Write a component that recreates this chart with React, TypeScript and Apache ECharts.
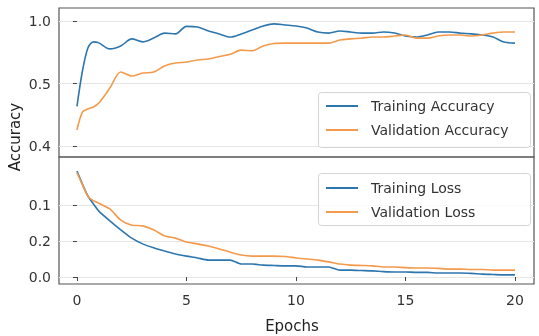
import React, { useEffect, useRef } from "react";
import * as echarts from "echarts";

const epochs = [0, 0.25, 0.5, 0.75, 1, 1.5, 2, 2.5, 3, 3.5, 4, 4.5, 5, 5.5, 6, 6.5, 7, 7.5, 8, 8.5, 9, 9.5, 10, 10.5, 11, 11.5, 12, 12.5, 13, 13.5, 14, 14.5, 15, 15.5, 16, 16.5, 17, 17.5, 18, 18.5, 19, 19.5, 20];

const trainAcc = [0.59, 0.76, 0.87, 0.9, 0.895, 0.866, 0.88, 0.914, 0.9, 0.918, 0.942, 0.938, 0.974, 0.971, 0.952, 0.938, 0.923, 0.938, 0.957, 0.976, 0.986, 0.981, 0.976, 0.966, 0.947, 0.942, 0.952, 0.947, 0.942, 0.942, 0.947, 0.942, 0.928, 0.923, 0.933, 0.947, 0.947, 0.942, 0.938, 0.933, 0.923, 0.899, 0.894];
const valAcc = [0.477, 0.563, 0.578, 0.587, 0.606, 0.678, 0.755, 0.736, 0.75, 0.755, 0.784, 0.798, 0.803, 0.813, 0.818, 0.83, 0.84, 0.86, 0.857, 0.88, 0.892, 0.894, 0.894, 0.894, 0.894, 0.894, 0.909, 0.914, 0.918, 0.923, 0.923, 0.928, 0.933, 0.918, 0.918, 0.928, 0.933, 0.933, 0.928, 0.933, 0.942, 0.947, 0.947];
const trainLoss = [0.294, 0.258, 0.225, 0.203, 0.183, 0.156, 0.131, 0.108, 0.092, 0.081, 0.072, 0.064, 0.058, 0.053, 0.047, 0.047, 0.047, 0.036, 0.036, 0.033, 0.032, 0.031, 0.031, 0.028, 0.028, 0.028, 0.019, 0.019, 0.018, 0.017, 0.015, 0.014, 0.014, 0.013, 0.013, 0.011, 0.011, 0.011, 0.01, 0.008, 0.007, 0.006, 0.006];
const valLoss = [0.29, 0.256, 0.224, 0.212, 0.205, 0.189, 0.158, 0.144, 0.142, 0.131, 0.114, 0.108, 0.097, 0.092, 0.086, 0.078, 0.069, 0.061, 0.058, 0.058, 0.058, 0.057, 0.053, 0.05, 0.047, 0.042, 0.036, 0.033, 0.032, 0.031, 0.028, 0.028, 0.026, 0.025, 0.025, 0.024, 0.022, 0.022, 0.021, 0.021, 0.019, 0.019, 0.019];

const xTicks = [0, 5, 10, 15, 20];
const accTickValues = [0.4, 0.7, 1.0];
const accTickLabels = ["0.4", "0.5", "1.0"];
const lossTickValues = [0, 0.1, 0.2];
const lossTickLabels = ["0.0", "0.2", "0.1"];

const accNames = ["Training Accuracy", "Validation Accuracy"];
const lossNames = ["Training Loss", "Validation Loss"];

const BLUE = "#2e76ae";
const ORANGE = "#f39a4c";
const FONT = "DejaVu Sans";

const zip = (ys: number[]) => epochs.map((x, i) => [x, ys[i]]);

export default function App() {
  const ref = useRef<HTMLDivElement>(null);
  useEffect(() => {
    if (!ref.current) return;
    const chart = echarts.init(ref.current, null, { renderer: "svg" });
    const yAxisCommon = (gridIndex: number, min: number, max: number, vals: number[], labels: string[]) => ({
      type: "value",
      gridIndex,
      min,
      max,
      axisLine: { show: false },
      axisTick: { show: true, customValues: vals, length: 4, lineStyle: { color: "#444" } },
      axisLabel: {
        customValues: vals,
        margin: 8,
        color: "#333",
        fontSize: 14,
        fontFamily: FONT,
        formatter: (v: number) => {
          const idx = vals.findIndex((t) => Math.abs(t - v) < 1e-6);
          return idx >= 0 ? labels[idx] : "";
        },
      },
      splitLine: { show: true, lineStyle: { color: "#e6e6e6", width: 1 } },
    });
    const lineSeries = (name: string, data: number[], color: string, idx: number, smooth: number) => ({
      type: "line",
      name,
      data: zip(data),
      xAxisIndex: idx,
      yAxisIndex: idx,
      showSymbol: false,
      symbol: "none",
      smooth,
      z: 2,
      lineStyle: { color, width: 1.6 },
      itemStyle: { color },
    });
    const legendCommon = {
      orient: "vertical",
      left: 326,
      padding: 0,
      itemGap: 8,
      itemWidth: 32,
      itemHeight: 2,
      icon: "rect",
      z: 10,
      textStyle: { fontSize: 14, fontFamily: FONT, color: "#333", lineHeight: 16, padding: [0, 0, 0, 8] },
    };
    chart.setOption({
      animation: false,
      textStyle: { fontFamily: FONT },
      grid: [
        { left: 59, top: 8, width: 475, height: 149, show: true, borderColor: "#555", borderWidth: 1.2, backgroundColor: "transparent" },
        { left: 59, top: 157, width: 475, height: 127, show: true, borderColor: "#555", borderWidth: 1.2, backgroundColor: "transparent" },
      ],
      xAxis: [
        { type: "value", gridIndex: 0, min: -0.82, max: 20.87, axisLine: { show: false }, axisTick: { show: false }, axisLabel: { show: false }, splitLine: { show: false } },
        {
          type: "value",
          gridIndex: 1,
          min: -0.82,
          max: 20.87,
          axisLine: { show: false },
          axisTick: { show: true, customValues: xTicks, length: 4, lineStyle: { color: "#444" } },
          axisLabel: { customValues: xTicks, margin: 9, color: "#333", fontSize: 14, fontFamily: FONT },
          splitLine: { show: false },
        },
      ],
      yAxis: [
        yAxisCommon(0, 0.3472, 1.0624, accTickValues, accTickLabels),
        yAxisCommon(1, -0.0194, 0.3333, lossTickValues, lossTickLabels),
      ],
      legend: [
        { ...legendCommon, top: 98, data: accNames },
        { ...legendCommon, top: 180, data: lossNames },
      ],
      graphic: [
        { type: "rect", left: 318, top: 92, z: 3, shape: { width: 212, height: 55, r: 3 }, style: { fill: "rgba(255,255,255,0.8)", stroke: "#d4d4d4", lineWidth: 1 } },
        { type: "rect", left: 318, top: 173, z: 3, shape: { width: 212, height: 52, r: 3 }, style: { fill: "rgba(255,255,255,0.8)", stroke: "#d4d4d4", lineWidth: 1 } },
        { type: "text", x: 15, y: 137, rotation: Math.PI / 2, style: { text: "Accuracy", fontSize: 15, fontFamily: FONT, fill: "#222", align: "center", verticalAlign: "middle" } },
        { type: "text", x: 292, y: 326, style: { text: "Epochs", fontSize: 15, fontFamily: FONT, fill: "#222", align: "center", verticalAlign: "middle" } },
      ],
      series: [
        lineSeries(accNames[0], trainAcc, BLUE, 0, 0.3),
        lineSeries(accNames[1], valAcc, ORANGE, 0, 0.3),
        lineSeries(lossNames[0], trainLoss, BLUE, 1, 0.2),
        lineSeries(lossNames[1], valLoss, ORANGE, 1, 0.2),
      ],
    });
    return () => chart.dispose();
  }, []);
  return <div ref={ref} style={{ position: "fixed", left: 0, top: 0, width: 539, height: 336 }} />;
}
